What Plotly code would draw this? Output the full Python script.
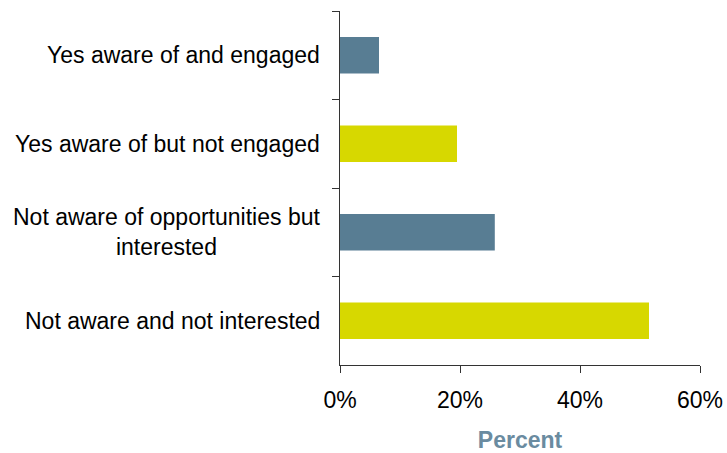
import plotly.graph_objects as go

# Survey responses, listed top to bottom as drawn
categories = [
    "Yes aware of and engaged",
    "Yes aware of but not engaged",
    "Not aware of opportunities but<br>interested",
    "Not aware and not interested",
]
percent = [6.5, 19.5, 25.8, 51.5]
bar_colors = ["#587D93", "#D7D800", "#587D93", "#D7D800"]

x_ticks = [0, 20, 40, 60]
x_tick_text = ["0%", "20%", "40%", "60%"]

FONT = "Liberation Sans, Arial, sans-serif"

fig = go.Figure(
    go.Bar(
        x=percent,
        y=categories,
        orientation="h",
        marker=dict(color=bar_colors, line=dict(width=0)),
        width=0.41,
        hoverinfo="skip",
    )
)

# Category labels as centred, right-anchored text next to the axis
for cat in categories:
    fig.add_annotation(
        x=0, xref="paper", xanchor="right", xshift=-18,
        y=cat, yref="y", yanchor="middle",
        text=cat, showarrow=False, align="center",
        font=dict(family=FONT, size=23, color="#000000"),
    )

fig.update_layout(
    width=727, height=453,
    margin=dict(l=340, r=27, t=11, b=88),
    paper_bgcolor="white", plot_bgcolor="white",
    showlegend=False,
    font=dict(family=FONT, size=23, color="#000000"),
    xaxis=dict(
        range=[0, 60], tickvals=x_ticks, ticktext=x_tick_text,
        automargin=False,
        showgrid=False, zeroline=False,
        showline=True, linecolor="#333333", linewidth=1,
        ticks="outside", ticklen=7, tickcolor="#333333", tickwidth=1,
        ticklabelstandoff=7,
        tickfont=dict(family=FONT, size=23, color="#000000"),
        title=dict(text="<b>Percent</b>", standoff=20,
                   font=dict(family=FONT, size=23, color="#6A8BA0")),
    ),
    yaxis=dict(
        type="category", categoryorder="array", categoryarray=categories,
        autorange="reversed", range=[3.5, -0.5],
        automargin=False,
        showgrid=False, zeroline=False,
        showline=True, linecolor="#333333", linewidth=1,
        ticks="outside", ticklen=7, tickcolor="#333333", tickwidth=1,
        tickson="boundaries", showticklabels=False,
    ),
)

fig.write_html("out.html")
